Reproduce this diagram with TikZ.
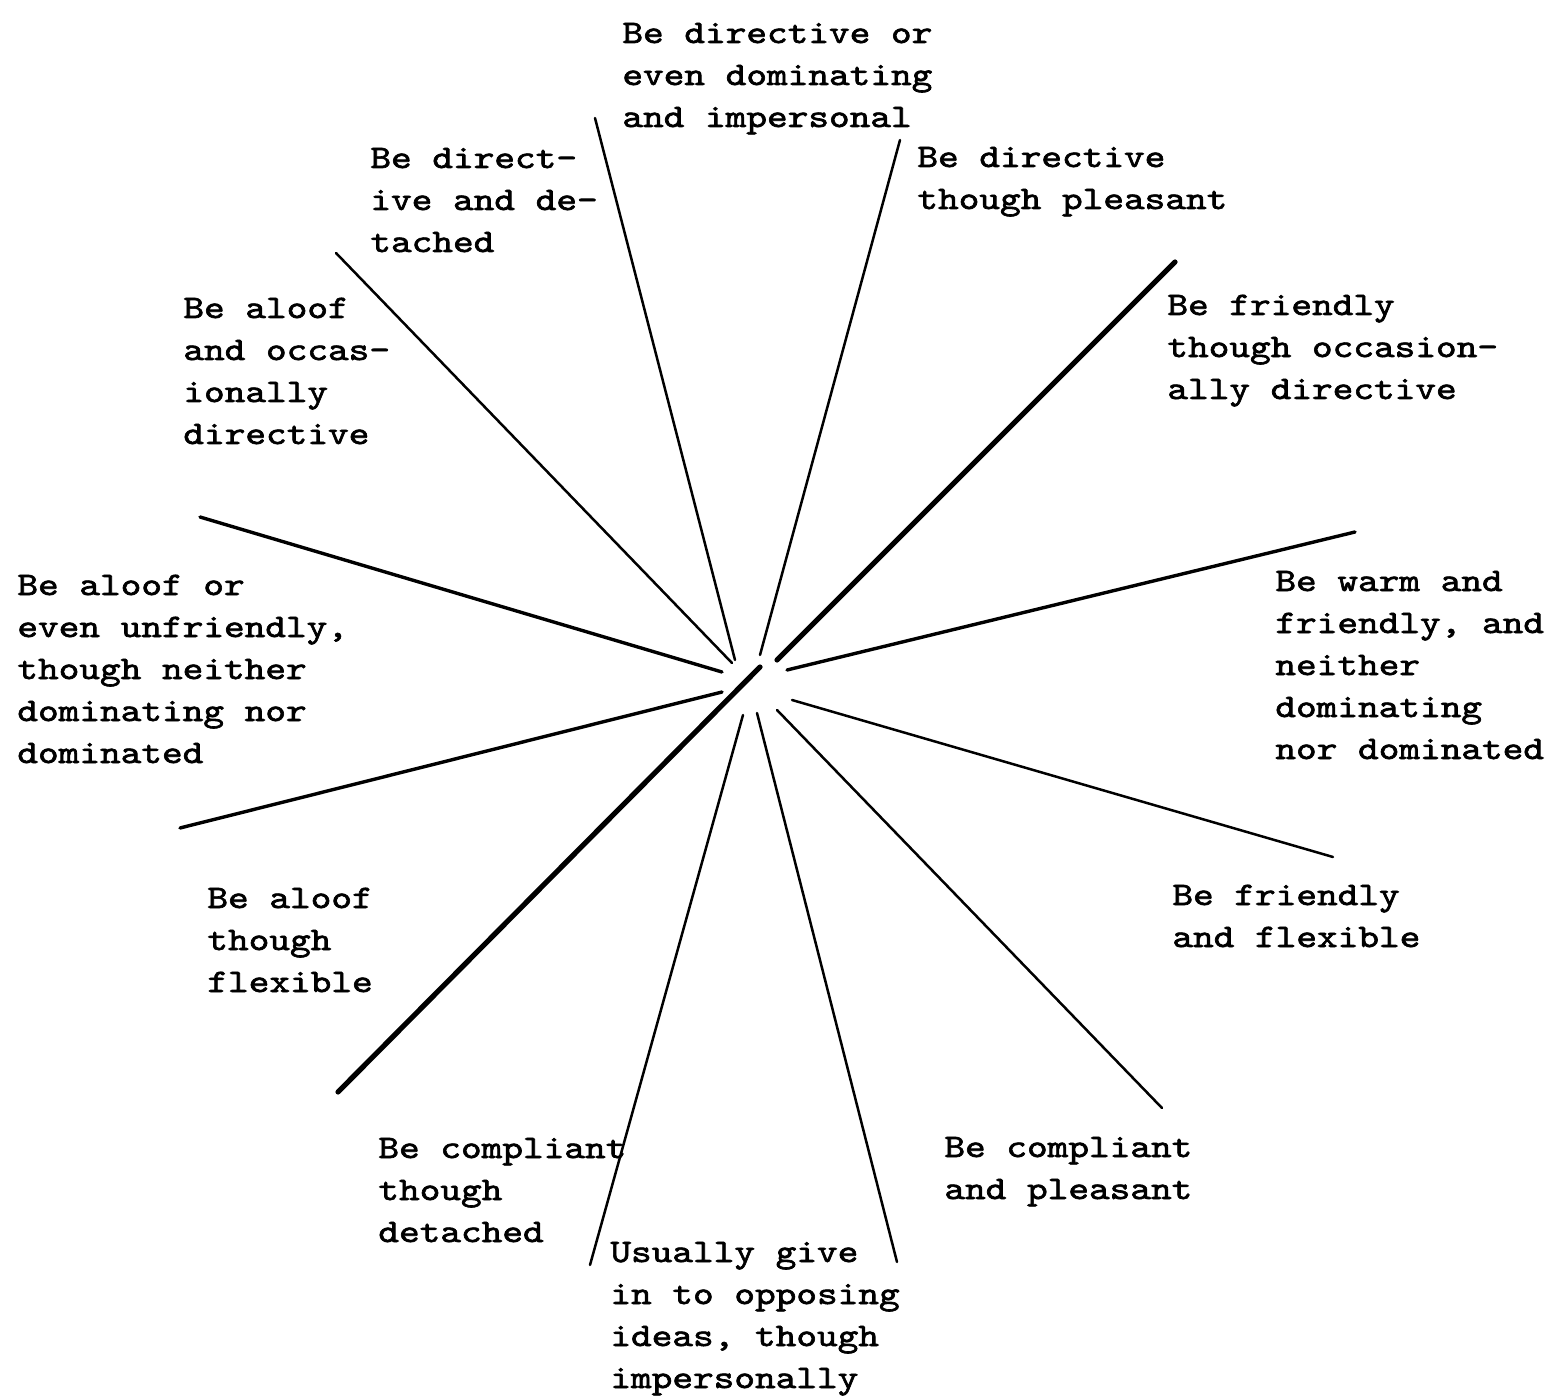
\documentclass[tikz,border=0pt]{standalone}
\usepackage{fontspec}
\newfontfamily\tw[FakeStretch=1.2,FakeBold=2]{lmmono10-regular.otf}
\begin{document}
\begin{tikzpicture}[x=0.5pt,y=-0.5pt,
  lbl/.style={anchor=base west,align=left,inner sep=0pt,font=\tw\fontsize{16.4}{21}\selectfont},
  ray/.style={line width=1.25pt,line cap=round},
  midray/.style={line width=1.7pt,line cap=round},
  thickray/.style={line width=2.6pt,line cap=round}]
\fill[white] (0,0) rectangle (1554,1396);
\useasboundingbox (0,0) rectangle (1554,1396);
% labels (anchor = baseline of the last line)
\node[lbl] (t1) at (622,127) {Be directive or\\even dominating\\and impersonal};
\node[lbl] (t2) at (917,209) {Be directive\\though pleasant};
\node[lbl] (t3) at (1167,399) {Be friendly\\though occasion-\\ally directive};
\node[lbl] (t4) at (1275,759) {Be warm and\\friendly, and\\neither\\dominating\\nor dominated};
\node[lbl] (t5) at (1172,947) {Be friendly\\and flexible};
\node[lbl] (t6) at (944,1199) {Be compliant\\and pleasant};
\node[lbl] (t7) at (610,1388) {Usually give\\in to opposing\\ideas, though\\impersonally};
\node[lbl] (t8) at (378,1242) {Be compliant\\though\\detached};
\node[lbl] (t9) at (207,992) {Be aloof\\though\\flexible};
\node[lbl] (t10) at (17,763) {Be aloof or\\even unfriendly,\\though neither\\dominating nor\\dominated};
\node[lbl] (t11) at (183,444) {Be aloof\\and occas-\\ionally\\directive};
\node[lbl] (t12) at (370,252) {Be direct-\\ive and de-\\tached};
% ray end points
\coordinate (o1) at (595,118);  \coordinate (i1) at (735,660);
\coordinate (o2) at (900,140);  \coordinate (i2) at (760,655);
\coordinate (o3) at (1175,262); \coordinate (i3) at (777,660);
\coordinate (o4) at (1355,532); \coordinate (i4) at (787,670);
\coordinate (o5) at (1333,857); \coordinate (i5) at (792,700);
\coordinate (o6) at (1162,1108);\coordinate (i6) at (777,710);
\coordinate (o7) at (897,1262); \coordinate (i7) at (757,713);
\coordinate (o8) at (590,1265); \coordinate (i8) at (743,715);
\coordinate (o9) at (338,1092); \coordinate (i9) at (760,667);
\coordinate (o10) at (180,828); \coordinate (i10) at (722,692);
\coordinate (o11) at (200,517); \coordinate (i11) at (722,672);
\coordinate (o12) at (336,253); \coordinate (i12) at (732,663);
% rays
\draw[ray] (i1) -- (o1);
\draw[ray] (i2) -- (o2);
\draw[thickray] (i3) -- (o3);
\draw[midray] (i4) -- (o4);
\draw[ray] (i5) -- (o5);
\draw[ray] (i6) -- (o6);
\draw[ray] (i7) -- (o7);
\draw[ray] (i8) -- (o8);
\draw[thickray] (i9) -- (o9);
\draw[midray] (i10) -- (o10);
\draw[midray] (i11) -- (o11);
\draw[ray] (i12) -- (o12);
\end{tikzpicture}
\end{document}
